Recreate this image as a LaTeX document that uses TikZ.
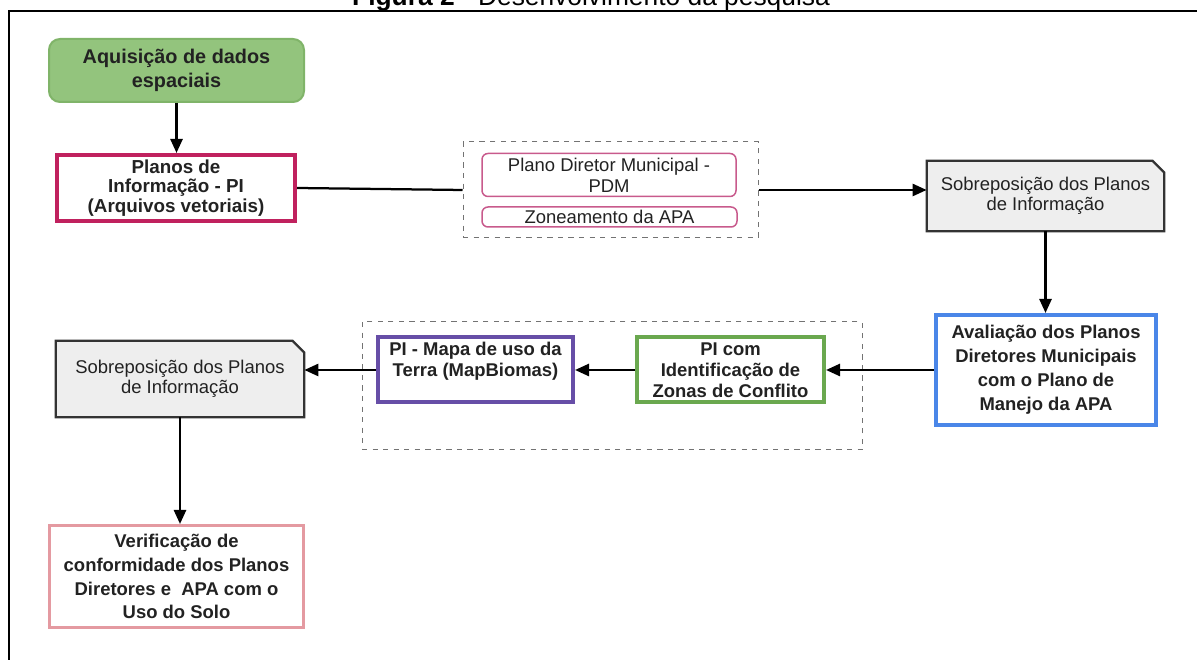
\documentclass[tikz,border=0pt]{standalone}
\usepackage{fontspec}
\setmainfont{Liberation Sans}
\usetikzlibrary{arrows.meta,backgrounds}
\definecolor{verdeaq}{HTML}{93C47D}
\definecolor{verdeaqborda}{HTML}{80B469}
\definecolor{carmim}{HTML}{C0215E}
\definecolor{rosapdm}{HTML}{C85A8C}
\definecolor{cinzanota}{HTML}{EEEEEE}
\definecolor{azulaval}{HTML}{4A86E8}
\definecolor{verdepi}{HTML}{6AA84F}
\definecolor{roxopi}{HTML}{674EA7}
\definecolor{salmao}{HTML}{E49AA1}
\definecolor{texto}{HTML}{222222}
\begin{document}
\begin{tikzpicture}[
    caixa/.style={draw, line width=0.08cm, fill=white, align=center, inner sep=0pt,
        text=texto, font=\fontsize{10.5}{12}\selectfont\bfseries},
    subcaixa/.style={draw=rosapdm, line width=0.03cm, rounded corners=0.12cm, align=center,
        inner sep=0pt, text=texto, font=\fontsize{10.5}{12}\selectfont},
    nota/.style={align=center, inner sep=0pt, text=texto, font=\fontsize{10.5}{11.6}\selectfont},
    notaborda/.style={draw=black!80, fill=cinzanota, line width=0.045cm},
    grupo/.style={draw=black!55, dashed, line width=0.02cm, inner sep=0pt},
    seta/.style={-{Triangle[length=0.28cm,width=0.24cm]}, line width=0.05cm}
]
\useasboundingbox (0,0) rectangle (23.94,13.2);

% moldura e titulo
\draw[line width=0.045cm] (0.18,-0.5) -- (0.18,12.98) -- (24.5,12.98);
\node[anchor=base, inner sep=0pt, font=\fontsize{15}{18}\selectfont] (titulo) at (11.82,13.08)
    {\textbf{Figura 2} - Desenvolvimento da pesquisa};

% linha de cima
\node[caixa, fill=verdeaq, draw=verdeaqborda, line width=0.04cm, rounded corners=0.22cm,
    minimum width=5.1cm, minimum height=1.26cm, font=\fontsize{11.3}{13.6}\selectfont\bfseries]
    (aquis) at (3.53,11.79) {Aquisição de dados\\espaciais};
\node[caixa, draw=carmim, minimum width=4.76cm, minimum height=1.32cm,
    font=\fontsize{10.7}{11.2}\selectfont\bfseries] (planos) at (3.52,9.44)
    {Planos de\\Informação - PI\\(Arquivos vetoriais)};

\node[grupo, minimum width=5.90cm, minimum height=1.92cm] (grupo1) at (12.21,9.40) {};
\node[subcaixa, minimum width=5.08cm, minimum height=0.86cm] (pdm) at (12.18,9.70)
    {Plano Diretor Municipal -\\PDM};
\node[subcaixa, minimum width=5.10cm, minimum height=0.40cm] (zona) at (12.19,8.86)
    {Zoneamento da APA};

\node[nota, minimum width=4.74cm, minimum height=1.28cm] (sobre1) at (20.91,9.28)
    {Sobreposição dos Planos\\de Informação};
\begin{scope}[on background layer]
\draw[notaborda] ([yshift=-0.06cm]sobre1.south west) -- ([yshift=0.06cm]sobre1.north west)
    -- ([xshift=-0.24cm,yshift=0.06cm]sobre1.north east)
    -- ([yshift=-0.18cm]sobre1.north east) -- ([yshift=-0.06cm]sobre1.south east) -- cycle;
\end{scope}

% linha do meio
\node[caixa, draw=azulaval, minimum width=4.40cm, minimum height=2.20cm,
    font=\fontsize{10.5}{13.6}\selectfont\bfseries] (aval) at (20.92,5.80)
    {Avaliação dos Planos\\Diretores Municipais\\com o Plano de\\Manejo da APA};

\node[grupo, minimum width=10.0cm, minimum height=2.56cm] (grupo2) at (12.24,5.48) {};
\node[caixa, draw=verdepi, minimum width=3.74cm, minimum height=1.30cm] (conflito) at (14.61,5.80)
    {PI com\\Identificação de\\Zonas de Conflito};
\node[caixa, draw=roxopi, minimum width=3.90cm, minimum height=1.30cm] (mapa) at (9.51,5.80)
    {PI - Mapa de uso da\\Terra (MapBiomas)\\\mbox{}};

\node[nota, minimum width=4.96cm, minimum height=1.52cm] (sobre2) at (3.60,5.62)
    {Sobreposição dos Planos\\de Informação};
\begin{scope}[on background layer]
\draw[notaborda] (sobre2.south west) -- (sobre2.north west) -- ([xshift=-0.24cm]sobre2.north east)
    -- ([yshift=-0.24cm]sobre2.north east) -- (sobre2.south east) -- cycle;
\end{scope}

% linha de baixo
\node[caixa, draw=salmao, line width=0.06cm, minimum width=5.08cm, minimum height=2.04cm,
    font=\fontsize{10.5}{13.6}\selectfont\bfseries] (verif) at (3.53,1.67)
    {Verificação de\\conformidade dos Planos\\Diretores e\ \ APA com o\\Uso do Solo};

% ligacoes
\draw[seta] (aquis.south) -- (aquis.south |- planos.north);
\draw[line width=0.045cm] (planos.east) -- (grupo1.west);
\draw[seta] (grupo1.east) -- (grupo1.east -| sobre1.west);
\draw[seta] ([yshift=-0.06cm]sobre1.south) -- (sobre1.south |- aval.north);
\draw[seta] (aval.west) -- (conflito.east);
\draw[seta] (conflito.west) -- (mapa.east);
\draw[seta] (mapa.west) -- (mapa.west -| sobre2.east);
\draw[seta] (sobre2.south) -- (sobre2.south |- verif.north);
\end{tikzpicture}
\end{document}
